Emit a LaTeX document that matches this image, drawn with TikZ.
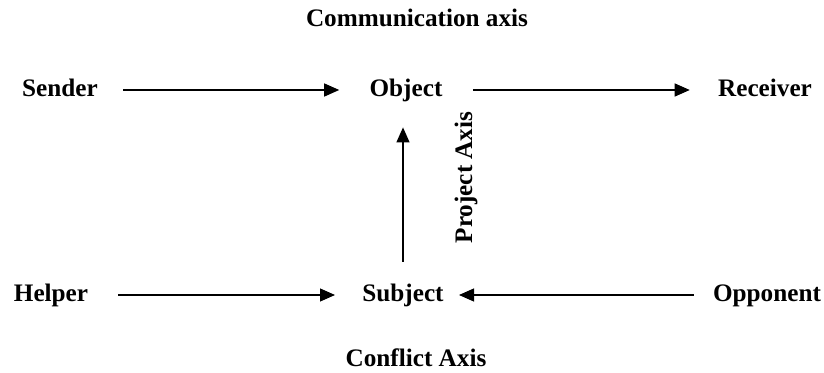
\documentclass[tikz,border=0pt]{standalone}
\usepackage{fontspec}
\setmainfont{Liberation Serif}
\usetikzlibrary{arrows.meta}
\begin{document}
\begin{tikzpicture}[x=0.5pt,y=-0.5pt,
  lbl/.style={font=\fontsize{12.6}{14}\selectfont\bfseries, inner sep=0pt, text height=9pt, text depth=2pt, anchor=base},
  conn/.style={line width=0.6pt, -{Triangle[length=7.5pt,width=6.5pt]}}]
\useasboundingbox (0,0) rectangle (824,373);
\node[lbl] (comm) at (417,27) {Communication axis};
\node[lbl] (sender) at (60,97) {Sender};
\node[lbl] (object) at (406,97) {Object};
\node[lbl] (receiver) at (765,97) {Receiver};
\node[lbl] (helper) at (51,302) {Helper};
\node[lbl] (subject) at (403,302) {Subject};
\node[lbl] (opponent) at (767,302) {Opponent};
\node[lbl] (conflict) at (416,367) {Conflict Axis};
\node[lbl, rotate=90] (project) at (472,177.5) {Project Axis};
\draw[conn, shorten <=12.5pt, shorten >=15pt] (sender.east) -- (object.west);
\draw[conn, shorten <=15pt, shorten >=14pt] (object.east) -- (receiver.west);
\draw[conn, shorten <=15pt, shorten >=13.5pt] (helper.east) -- (subject.west);
\draw[conn, shorten <=9.5pt, shorten >=7.5pt] (opponent.west) -- (subject.east);
\draw[conn, shorten <=11pt, shorten >=13pt] (subject.north) -- (subject.north |- object.south);
\end{tikzpicture}
\end{document}
